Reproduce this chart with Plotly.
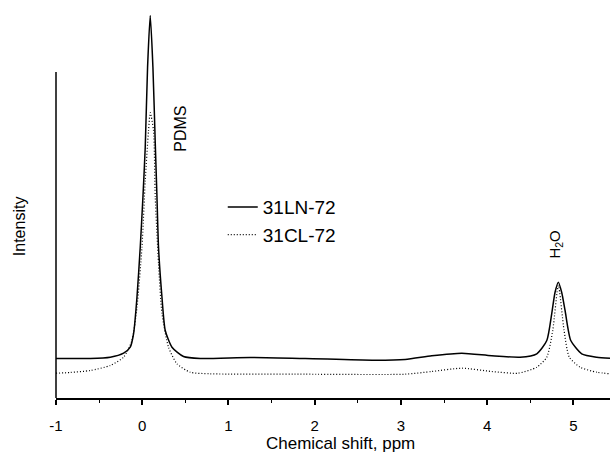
import plotly.graph_objects as go

# Chemical shift (ppm) and intensity (arb. units)
ln_ppm = [-1.0, -0.602, -0.371, -0.216, -0.139, -0.100, -0.061, -0.023, 0.008, 0.035,
          0.062, 0.093, 0.124, 0.151, 0.171, 0.189, 0.229, 0.267, 0.345, 0.479, 0.673,
          1.252, 1.890, 2.666, 3.049, 3.358, 3.706, 4.054, 4.382, 4.576, 4.692, 4.749,
          4.787, 4.826, 4.865, 4.904, 4.970, 5.097, 5.271, 5.425]
ln_int = [39.5, 39.5, 40.8, 44.8, 50.8, 64.5, 100.8, 150.8, 200.8, 250.8,
          330.8, 382.5, 330.8, 255.0, 200.8, 150.8, 100.8, 67.5, 50.8, 41.5, 39.5,
          40.5, 39.5, 37.8, 38.5, 42.2, 44.8, 42.2, 40.8, 44.2, 57.5, 84.2,
          105.5, 115.8, 105.5, 87.5, 57.5, 44.2, 40.8, 39.8]

cl_ppm = [-1.0, -0.834, -0.602, -0.371, -0.216, -0.119, -0.061, -0.003, 0.035, 0.073,
          0.093, 0.131, 0.151, 0.189, 0.229, 0.305, 0.403, 0.557, 0.789, 1.890,
          3.049, 3.358, 3.706, 4.054, 4.359, 4.576, 4.692, 4.761, 4.826, 4.892,
          4.953, 5.078, 5.271, 5.425]
cl_int = [24.8, 25.5, 27.5, 32.5, 40.8, 57.5, 90.8, 150.8, 217.5, 267.5,
          285.5, 267.5, 200.8, 134.5, 84.5, 50.8, 34.2, 25.8, 24.2, 23.8,
          23.8, 26.5, 29.8, 26.5, 24.8, 30.8, 40.8, 67.5, 112.5, 67.5,
          40.8, 30.8, 25.8, 24.2]

x_ticks = [-1, 0, 1, 2, 3, 4, 5]
x_range = [-1.0, 5.425]
y_range = [0, 395]
y_axis_top = 326

FONT = "Liberation Sans, Arial, sans-serif"

fig = go.Figure()
fig.add_trace(go.Scatter(x=ln_ppm, y=ln_int, mode="lines", name="31LN-72",
                         line=dict(color="black", width=1.5, shape="spline", smoothing=0.6)))
fig.add_trace(go.Scatter(x=cl_ppm, y=cl_int, mode="lines", name="31CL-72",
                         line=dict(color="black", width=1.2, dash="1px,2px", shape="spline", smoothing=0.6)))

fig.update_layout(
    width=610, height=454,
    margin=dict(l=56, r=0, t=3, b=56),
    paper_bgcolor="white", plot_bgcolor="white",
    font=dict(family=FONT, color="black"),
    showlegend=True,
    legend=dict(x=0.301, y=0.448, xanchor="left", yanchor="middle",
                font=dict(size=19, family=FONT), bgcolor="rgba(0,0,0,0)",
                borderwidth=0, tracegroupgap=0),
    xaxis=dict(range=x_range, tickvals=x_ticks, ticktext=[str(t) for t in x_ticks],
               showline=True, linecolor="black", linewidth=1.5,
               ticks="outside", ticklen=5, tickwidth=1.5, tickcolor="black",
               minor=dict(dtick=0.5, ticks="outside", ticklen=3, tickwidth=1, tickcolor="black"),
               showgrid=False, zeroline=False,
               tickfont=dict(size=15, family=FONT), ticklabelstandoff=8),
    yaxis=dict(range=y_range, showline=False, showticklabels=False, ticks="",
               showgrid=False, zeroline=False),
)

# left axis line (shorter than plot area)
fig.add_shape(type="line", xref="paper", yref="y", x0=0, x1=0, y0=0, y1=y_axis_top,
              line=dict(color="black", width=1.5))

fig.add_annotation(text="Chemical shift, ppm", xref="paper", yref="paper", x=0.514, y=0,
                   xanchor="center", yanchor="middle", yshift=-45, showarrow=False,
                   font=dict(size=17, family=FONT))
fig.add_annotation(text="Intensity", xref="paper", yref="paper", x=0, y=0.435,
                   xanchor="center", yanchor="middle", xshift=-37, textangle=-90,
                   showarrow=False, font=dict(size=16, family=FONT))
fig.add_annotation(text="PDMS", xref="x", yref="y", x=0.441, y=269.5,
                   xanchor="center", yanchor="middle",
                   textangle=-90, showarrow=False, font=dict(size=16, family=FONT))
fig.add_annotation(text="H<sub>2</sub>O", xref="x", yref="y", x=4.788, y=153.5,
                   xanchor="center", yanchor="middle",
                   textangle=-90, showarrow=False, font=dict(size=15, family=FONT))

fig.write_html("out.html", config={"displayModeBar": False},
               post_script="document.body.style.margin='0';document.body.style.overflow='hidden';")
